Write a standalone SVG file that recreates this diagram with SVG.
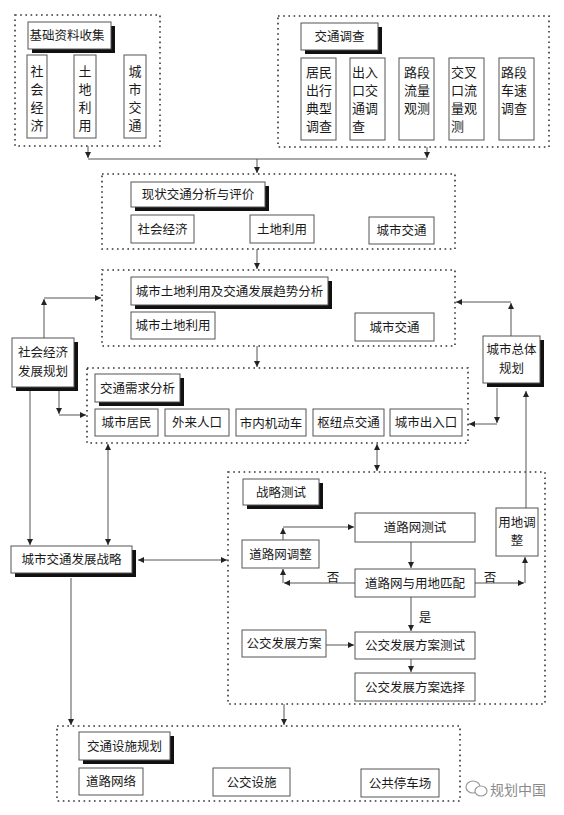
<svg xmlns="http://www.w3.org/2000/svg" width="564" height="815" viewBox="0 0 564 815">
<defs>
<marker id="ah" viewBox="0 0 6 6" refX="6" refY="3" markerWidth="6" markerHeight="6" markerUnits="userSpaceOnUse" orient="auto-start-reverse">
<path d="M0,0 L6,3 L0,6 z" fill="#222"/>
</marker>
<style>
text{font-family:"Noto Sans CJK SC","Noto Sans CJK JP",sans-serif;font-size:12.5px;fill:#1a1a1a}
.c{text-anchor:middle}
.v{font-size:13px}
.box{fill:#fff;stroke:#555;stroke-width:1}
.sh{fill:#111}
.dot{fill:none;stroke:#333;stroke-width:1.6;stroke-dasharray:1.6 3.6}
.ln{fill:none;stroke:#555;stroke-width:1}
.a{marker-end:url(#ah)}
.b{marker-start:url(#ah);marker-end:url(#ah)}
.wm{fill:#8a8a8a;font-size:14px}
</style>
</defs>
<rect width="564" height="815" fill="#fff"/>

<g id="d1"><rect class="dot" x="15" y="15" width="145" height="131"/></g>
<g id="d2"><rect class="dot" x="278" y="16" width="271" height="131"/></g>
<g id="d3"><rect class="dot" x="102" y="174" width="353" height="75"/></g>
<g id="d4"><rect class="dot" x="102" y="270" width="353" height="76"/></g>
<g id="d5"><rect class="dot" x="87" y="368" width="381" height="75"/></g>
<g id="d6"><rect class="dot" x="228" y="472" width="317" height="232"/></g>
<g id="d7"><rect class="dot" x="57" y="726" width="403" height="75"/></g>

<g id="connectors">
<path class="ln a" d="M88,146 V158"/>
<path class="ln a" d="M427,147 V158"/>
<path class="ln" d="M88,159 H427"/>
<path class="ln a" d="M257,159 V173"/>
<path class="ln a" d="M257,249 V269"/>
<path class="ln a" d="M257,346 V367"/>
<path class="ln a" d="M44,338 V299"/>
<path class="ln a" d="M44,298 H101"/>
<path class="ln a" d="M59,391 V414"/>
<path class="ln a" d="M59,415 H86"/>
<path class="ln a" d="M30,391 V545"/>
<path class="ln b" d="M108,444 V545"/>
<path class="ln b" d="M377,444 V471"/>
<path class="ln a" d="M511,336 V303"/>
<path class="ln a" d="M511,302 H456"/>
<path class="ln a" d="M497,388 V423"/>
<path class="ln a" d="M497,424 H469"/>
<path class="ln a" d="M526,508 V391"/>
<path class="ln b" d="M138,560 H227"/>
<path class="ln a" d="M71,578 V725"/>
<path class="ln a" d="M284,704 V725"/>
<path class="ln a" d="M283,540 V528"/>
<path class="ln a" d="M283,527 H354"/>
<path class="ln a" d="M411,542 V568"/>
<path class="ln a" d="M355,583 H284"/>
<path class="ln a" d="M283,583 V569"/>
<path class="ln a" d="M475,583 H524"/>
<path class="ln a" d="M525,583 V557"/>
<path class="ln a" d="M411,597 V631"/>
<path class="ln a" d="M326,645 H354"/>
<path class="ln a" d="M411,659 V672"/>
<text class="c" x="333" y="582">否</text>
<text class="c" x="490" y="582">否</text>
<text class="c" x="425" y="622">是</text>
</g>

<g id="h-jichu"><rect class="sh" x="32" y="26" width="83" height="27"/><rect class="box" x="28" y="22" width="83" height="27"/><text class="c" x="67" y="40">基础资料收集</text></g>
<g id="v-shehui"><rect class="box" x="27" y="55" width="20" height="83"/><text class="c v" x="37" y="75.5">社</text><text class="c v" x="37" y="93.5">会</text><text class="c v" x="37" y="111.5">经</text><text class="c v" x="37" y="129.5">济</text></g>
<g id="v-tudi"><rect class="box" x="74" y="55" width="22" height="83"/><text class="c v" x="85" y="75.5">土</text><text class="c v" x="85" y="93.5">地</text><text class="c v" x="85" y="111.5">利</text><text class="c v" x="85" y="129.5">用</text></g>
<g id="v-chengshi"><rect class="box" x="124" y="55" width="22" height="83"/><text class="c v" x="135" y="75.5">城</text><text class="c v" x="135" y="93.5">市</text><text class="c v" x="135" y="111.5">交</text><text class="c v" x="135" y="129.5">通</text></g>

<g id="h-diaocha"><rect class="sh" x="305" y="27" width="77" height="27"/><rect class="box" x="301" y="23" width="77" height="27"/><text class="c" x="339.5" y="41">交通调查</text></g>
<g id="t1"><rect class="box" x="301" y="58" width="35" height="82"/><text class="v" x="306" y="76.5">居民</text><text class="v" x="306" y="94.5">出行</text><text class="v" x="306" y="112.5">典型</text><text class="v" x="306" y="131">调查</text></g>
<g id="t2"><rect class="box" x="350" y="58" width="35" height="82"/><text class="v" x="352" y="76.5">出入</text><text class="v" x="352" y="94.5">口交</text><text class="v" x="352" y="112.5">通调</text><text class="v" x="352" y="131">查</text></g>
<g id="t3"><rect class="box" x="399" y="58" width="35" height="82"/><text class="v" x="404" y="76.5">路段</text><text class="v" x="404" y="94.5">流量</text><text class="v" x="404" y="112.5">观测</text></g>
<g id="t4"><rect class="box" x="449" y="58" width="35" height="82"/><text class="v" x="451" y="76.5">交叉</text><text class="v" x="451" y="94.5">口流</text><text class="v" x="451" y="112.5">量观</text><text class="v" x="451" y="131">测</text></g>
<g id="t5"><rect class="box" x="499" y="58" width="35" height="82"/><text class="v" x="501" y="76.5">路段</text><text class="v" x="501" y="94.5">车速</text><text class="v" x="501" y="112.5">调查</text></g>

<g id="h-xianzhuang"><rect class="sh" x="135" y="186" width="134" height="25"/><rect class="box" x="131" y="182" width="134" height="25"/><text class="c" x="198" y="199">现状交通分析与评价</text></g>
<g id="x1"><rect class="box" x="131" y="215" width="63" height="28"/><text class="c" x="162.5" y="233.5">社会经济</text></g>
<g id="x2"><rect class="box" x="250" y="215" width="64" height="28"/><text class="c" x="282" y="233.5">土地利用</text></g>
<g id="x3"><rect class="box" x="369" y="217" width="65" height="27"/><text class="c" x="401.5" y="235">城市交通</text></g>

<g id="h-qushi"><rect class="sh" x="135" y="281" width="197" height="28"/><rect class="box" x="131" y="277" width="197" height="28"/><text class="c" x="229.5" y="295.5">城市土地利用及交通发展趋势分析</text></g>
<g id="q1"><rect class="box" x="131" y="312" width="84" height="27"/><text class="c" x="173" y="330">城市土地利用</text></g>
<g id="q2"><rect class="box" x="355" y="313" width="79" height="28"/><text class="c" x="394.5" y="331.5">城市交通</text></g>

<g id="shehuiguihua"><rect class="sh" x="16" y="342" width="62" height="49"/><rect class="box" x="12" y="338" width="62" height="49"/><text class="c" x="43" y="357">社会经济</text><text class="c" x="43" y="376">发展规划</text></g>
<g id="zongtiguihua"><rect class="sh" x="487" y="340" width="57" height="47"/><rect class="box" x="483" y="336" width="57" height="47"/><text class="c" x="511.5" y="354">城市总体</text><text class="c" x="511.5" y="373">规划</text></g>

<g id="h-xuqiu"><rect class="sh" x="99" y="378" width="85" height="28"/><rect class="box" x="95" y="374" width="85" height="28"/><text class="c" x="137.5" y="392.5">交通需求分析</text></g>
<g id="r1"><rect class="box" x="95" y="409" width="63" height="27"/><text class="c" x="126.5" y="427">城市居民</text></g>
<g id="r2"><rect class="box" x="165" y="409" width="64" height="27"/><text class="c" x="197" y="427">外来人口</text></g>
<g id="r3"><rect class="box" x="236" y="409" width="70" height="27"/><text class="c" x="271" y="428">市内机动车</text></g>
<g id="r4"><rect class="box" x="313" y="409" width="71" height="27"/><text class="c" x="348.5" y="427">枢纽点交通</text></g>
<g id="r5"><rect class="box" x="390" y="409" width="72" height="27"/><text class="c" x="426" y="427">城市出入口</text></g>

<g id="zhanlve"><rect class="sh" x="15" y="550" width="121" height="27"/><rect class="box" x="11" y="546" width="121" height="27"/><text class="c" x="71.5" y="564">城市交通发展战略</text></g>

<g id="h-ceshi"><rect class="sh" x="247" y="483" width="76" height="26"/><rect class="box" x="243" y="479" width="76" height="26"/><text class="c" x="281" y="496.5">战略测试</text></g>
<g id="s1"><rect class="box" x="355" y="513" width="120" height="29"/><text class="c" x="415" y="532">道路网测试</text></g>
<g id="s2"><rect class="box" x="242" y="540" width="77" height="28"/><text class="c" x="280.5" y="558.5">道路网调整</text></g>
<g id="s3"><rect class="box" x="355" y="569" width="120" height="28"/><text class="c" x="415" y="587.5">道路网与用地匹配</text></g>
<g id="s4"><rect class="box" x="496" y="508" width="42" height="48"/><text class="c" x="517" y="526.5">用地调</text><text class="c" x="517" y="545">整</text></g>
<g id="s5"><rect class="box" x="242" y="630" width="84" height="27"/><text class="c" x="284" y="648">公交发展方案</text></g>
<g id="s6"><rect class="box" x="355" y="632" width="120" height="27"/><text class="c" x="415" y="650">公交发展方案测试</text></g>
<g id="s7"><rect class="box" x="355" y="673" width="120" height="28"/><text class="c" x="415" y="691.5">公交发展方案选择</text></g>

<g id="h-sheshi"><rect class="sh" x="83" y="736" width="91" height="28"/><rect class="box" x="79" y="732" width="91" height="28"/><text class="c" x="124.5" y="750.5">交通设施规划</text></g>
<g id="f1"><rect class="box" x="79" y="768" width="64" height="27"/><text class="c" x="111" y="786">道路网络</text></g>
<g id="f2"><rect class="box" x="213" y="768" width="77" height="28"/><text class="c" x="251.5" y="786.5">公交设施</text></g>
<g id="f3"><rect class="box" x="361" y="769" width="78" height="28"/><text class="c" x="400" y="787.5">公共停车场</text></g>

<g id="watermark">
<ellipse cx="473" cy="787" rx="7" ry="6" fill="none" stroke="#9a9a9a" stroke-width="1.2"/>
<ellipse cx="481" cy="791" rx="6" ry="5" fill="#fff" stroke="#9a9a9a" stroke-width="1.2"/>
<text class="wm" x="490" y="795">规划中国</text>
</g>
</svg>
